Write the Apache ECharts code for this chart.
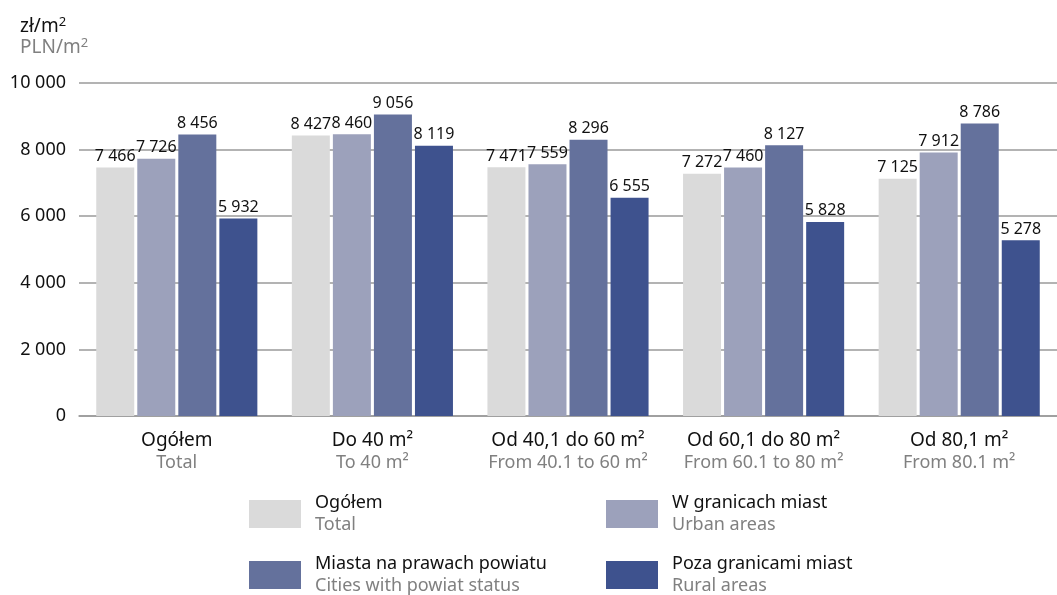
<!DOCTYPE html>
<html>
<head>
<meta charset="utf-8">
<script src="https://cdn.jsdelivr.net/npm/echarts@6/dist/echarts.min.js"></script>
<style>
  html, body { margin: 0; padding: 0; background: #ffffff; }
  #chart { width: 1057px; height: 595px; }
</style>
</head>
<body>
<div id="chart"></div>
<script>
// Average price per m² of dwellings by usable floor area
const categoriesPl = ['Ogółem', 'Do 40 m²', 'Od 40,1 do 60 m²', 'Od 60,1 do 80 m²', 'Od 80,1 m²'];
const categoriesEn = ['Total', 'To 40 m²', 'From 40.1 to 60 m²', 'From 60.1 to 80 m²', 'From 80.1 m²'];

const seriesNamesPl = ['Ogółem', 'W granicach miast', 'Miasta na prawach powiatu', 'Poza granicami miast'];
const seriesNamesEn = ['Total', 'Urban areas', 'Cities with powiat status', 'Rural areas'];

const totalValues  = [7466, 8427, 7471, 7272, 7125];
const urbanValues  = [7726, 8460, 7559, 7460, 7912];
const citiesValues = [8456, 9056, 8296, 8127, 8786];
const ruralValues  = [5932, 8119, 6555, 5828, 5278];

const yTicks = [0, 2000, 4000, 6000, 8000, 10000];

const colors = ['#dadada', '#9ca1bb', '#64719c', '#3e528e'];
const FONT = '"Noto Sans", sans-serif';

function fmt(v) {
  return String(v).replace(/\B(?=(\d{3})+(?!\d))/g, ' ');
}

const seriesValues = [totalValues, urbanValues, citiesValues, ruralValues];
const series = seriesNamesPl.map((name, i) => ({
  name: name,
  type: 'bar',
  data: seriesValues[i],
  barWidth: 38,
  barGap: '8%',
  itemStyle: { color: colors[i] },
  label: {
    show: true,
    position: 'top',
    distance: 3,
    color: '#111111',
    fontFamily: FONT,
    fontSize: 16,
    formatter: p => fmt(p.value)
  }
}));

const legendRich = {
  a: { fontFamily: FONT, fontSize: 18, color: '#111111', lineHeight: 22 },
  b: { fontFamily: FONT, fontSize: 18, color: '#808080', lineHeight: 22 }
};
function legendFormatter(name) {
  const i = seriesNamesPl.indexOf(name);
  return '{a|' + name + '}\n{b|' + seriesNamesEn[i] + '}';
}
function makeLegend(left, names) {
  return {
    orient: 'vertical',
    left: left,
    top: 489,
    height: 120,
    itemWidth: 52,
    itemHeight: 28,
    itemGap: 21,
    icon: 'rect',
    selectedMode: false,
    data: names,
    formatter: legendFormatter,
    textStyle: { rich: legendRich, padding: [0, 0, 0, 9] }
  };
}

const chart = echarts.init(document.getElementById('chart'), null, { renderer: 'canvas' });
chart.setOption({
  animation: false,
  backgroundColor: '#ffffff',
  title: {
    left: 15,
    top: 11,
    text: 'zł/m{s|2}',
    subtext: 'PLN/m{s|2}',
    itemGap: 0,
    textStyle: {
      fontFamily: FONT, fontSize: 19, fontWeight: 'normal', color: '#111111',
      rich: { s: { fontFamily: FONT, fontSize: 13, color: '#111111', verticalAlign: 'top', padding: [0, 0, 9, 0] } }
    },
    subtextStyle: {
      fontFamily: FONT, fontSize: 19, color: '#808080',
      rich: { s: { fontFamily: FONT, fontSize: 13, color: '#808080', verticalAlign: 'top', padding: [0, 0, 9, 0] } }
    }
  },
  grid: { left: 79, top: 83, width: 990, height: 333, containLabel: false },
  legend: [
    makeLegend(244, [seriesNamesPl[0], seriesNamesPl[2]]),
    makeLegend(601, [seriesNamesPl[1], seriesNamesPl[3]])
  ],
  xAxis: {
    type: 'category',
    data: categoriesPl,
    axisLine: { show: true, lineStyle: { color: '#9a9a9a', width: 1.5 } },
    axisTick: { show: false },
    axisLabel: {
      margin: 14,
      interval: 0,
      formatter: (v, idx) => '{a|' + v + '}\n{b|' + categoriesEn[idx] + '}',
      rich: {
        a: { fontFamily: FONT, fontSize: 19, color: '#111111', lineHeight: 22 },
        b: { fontFamily: FONT, fontSize: 18, color: '#808080', lineHeight: 22 }
      }
    }
  },
  yAxis: {
    type: 'value',
    min: yTicks[0],
    max: yTicks[yTicks.length - 1],
    interval: yTicks[1] - yTicks[0],
    axisLine: { show: false },
    axisTick: { show: false },
    splitLine: { show: true, lineStyle: { color: '#9a9a9a', width: 1.5 } },
    axisLabel: {
      margin: 13,
      fontFamily: FONT,
      fontSize: 18,
      color: '#111111',
      formatter: v => fmt(v)
    }
  },
  series: series
});
</script>
</body>
</html>
